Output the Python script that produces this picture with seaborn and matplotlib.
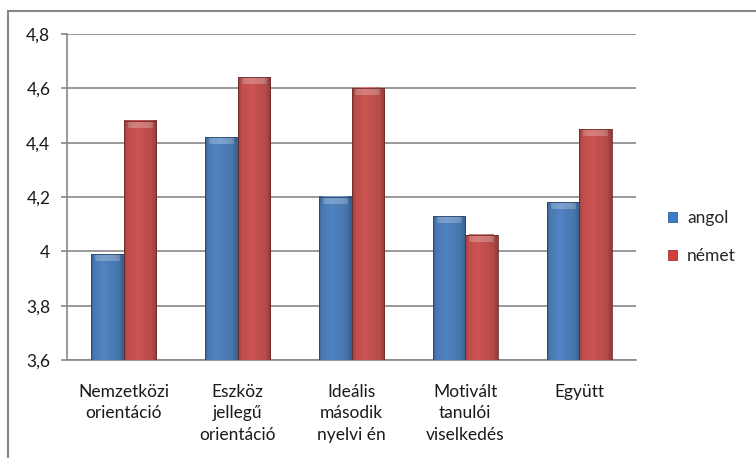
import numpy as np
import pandas as pd
import matplotlib
matplotlib.use("Agg")
import matplotlib.pyplot as plt
import seaborn as sns
from matplotlib.colors import to_rgb
from matplotlib.patches import Patch, Rectangle

# data
categories = [
    "Nemzetközi\norientáció",
    "Eszköz\njellegű\norientáció",
    "Ideális\nmásodik\nnyelvi én",
    "Motivált\ntanulói\nviselkedés",
    "Együtt",
]
series = ["angol", "német"]
angol = [3.99, 4.42, 4.20, 4.13, 4.18]
nemet = [4.48, 4.64, 4.60, 4.06, 4.45]
yticks = [3.6, 3.8, 4.0, 4.2, 4.4, 4.6, 4.8]

colors = ["#3a7bcb", "#d63d3a"]
grid_gray = "#888888"

df = pd.DataFrame(
    {
        "kat": categories * 2,
        "csoport": [series[0]] * len(angol) + [series[1]] * len(nemet),
        "ertek": angol + nemet,
    }
)

sns.set_style("white")
plt.rcParams["font.family"] = ["Lato", "DejaVu Sans"]

fig = plt.figure(figsize=(7.56, 4.58), dpi=100)
ax = fig.add_axes([67 / 756, 1 - 360 / 458, (636 - 67) / 756, (360 - 34) / 458])

sns.barplot(
    data=df, x="kat", y="ertek", hue="csoport", palette=colors,
    width=0.57, ax=ax, legend=False, edgecolor="none", zorder=3,
)

ax.set_xlim(-0.5, len(categories) - 0.5)
ax.set_ylim(yticks[0], yticks[-1])

# Excel-like shading: horizontal gradient plus a light bevel on top
t = np.linspace(0, 1, 64)
shade = np.interp(t, [0, 0.1, 0.4, 0.85, 1], [0.8, 0.97, 1.05, 0.93, 0.74])
ybot = ax.get_ylim()[0]
unit_px = ax.bbox.height / (ax.get_ylim()[1] - ax.get_ylim()[0])
bevel = 7 / unit_px
for p in list(ax.patches):
    base = np.array(to_rgb(p.get_facecolor()))
    img = np.clip(shade[None, :, None] * base[None, None, :], 0, 1)
    x, w, top = p.get_x(), p.get_width(), p.get_y() + p.get_height()
    ax.imshow(img, extent=[x, x + w, ybot, top], aspect="auto",
              origin="lower", zorder=4, interpolation="bilinear")
    light = np.clip(img * 0.75 + 0.25, 0, 1)
    ax.imshow(light, extent=[x + w * 0.12, x + w * 0.88, top - bevel, top], aspect="auto",
              origin="lower", zorder=4.5, interpolation="bilinear")
    p.set_facecolor("none")
    p.set_edgecolor(base * 0.55)
    p.set_linewidth(0.6)
    p.set_zorder(5)

ax.set_xlim(-0.5, len(categories) - 0.5)
ax.set_ylim(yticks[0], yticks[-1])
ax.set_yticks(yticks)
ax.set_yticklabels([f"{v:g}".replace(".", ",") for v in yticks], fontsize=12.5, color="#1a1a1a")
ax.set_xticks(range(len(categories)))
ax.set_xticklabels(categories, fontsize=12.5, color="#1a1a1a", linespacing=1.45)
ax.set_xticks(np.arange(len(categories) + 1) - 0.5, minor=True)
ax.tick_params(axis="x", which="major", length=0, pad=17)
ax.tick_params(axis="x", which="minor", length=4, width=1.2, color=grid_gray, direction="out")
ax.tick_params(axis="y", length=4, width=1.2, color=grid_gray, direction="out", pad=8, left=True)
ax.set_xlabel("")
ax.set_ylabel("")

ax.yaxis.grid(True, color=grid_gray, linewidth=1.2)
ax.set_axisbelow(True)
for s in ["top", "right"]:
    ax.spines[s].set_visible(False)
for s in ["left", "bottom"]:
    ax.spines[s].set_color(grid_gray)
    ax.spines[s].set_linewidth(1.2)

handles = [Patch(facecolor=c, edgecolor=np.array(to_rgb(c)) * 0.6, linewidth=0.5) for c in colors]
fig.legend(
    handles, series, loc="center left", bbox_to_anchor=(668 / 756, 1 - 237 / 458),
    frameon=False, fontsize=12.5, handlelength=0.5, handleheight=0.5,
    handletextpad=0.6, labelspacing=1.3, borderpad=0, borderaxespad=0,
)

# chart area border (cut off at right and bottom in the original)
fig.add_artist(Rectangle((8 / 756, -0.1), 1.2, 1 - 11 / 458 + 0.1, transform=fig.transFigure,
                         fill=False, edgecolor="#868686", linewidth=1.5))

fig.savefig("out.png", dpi=100)
